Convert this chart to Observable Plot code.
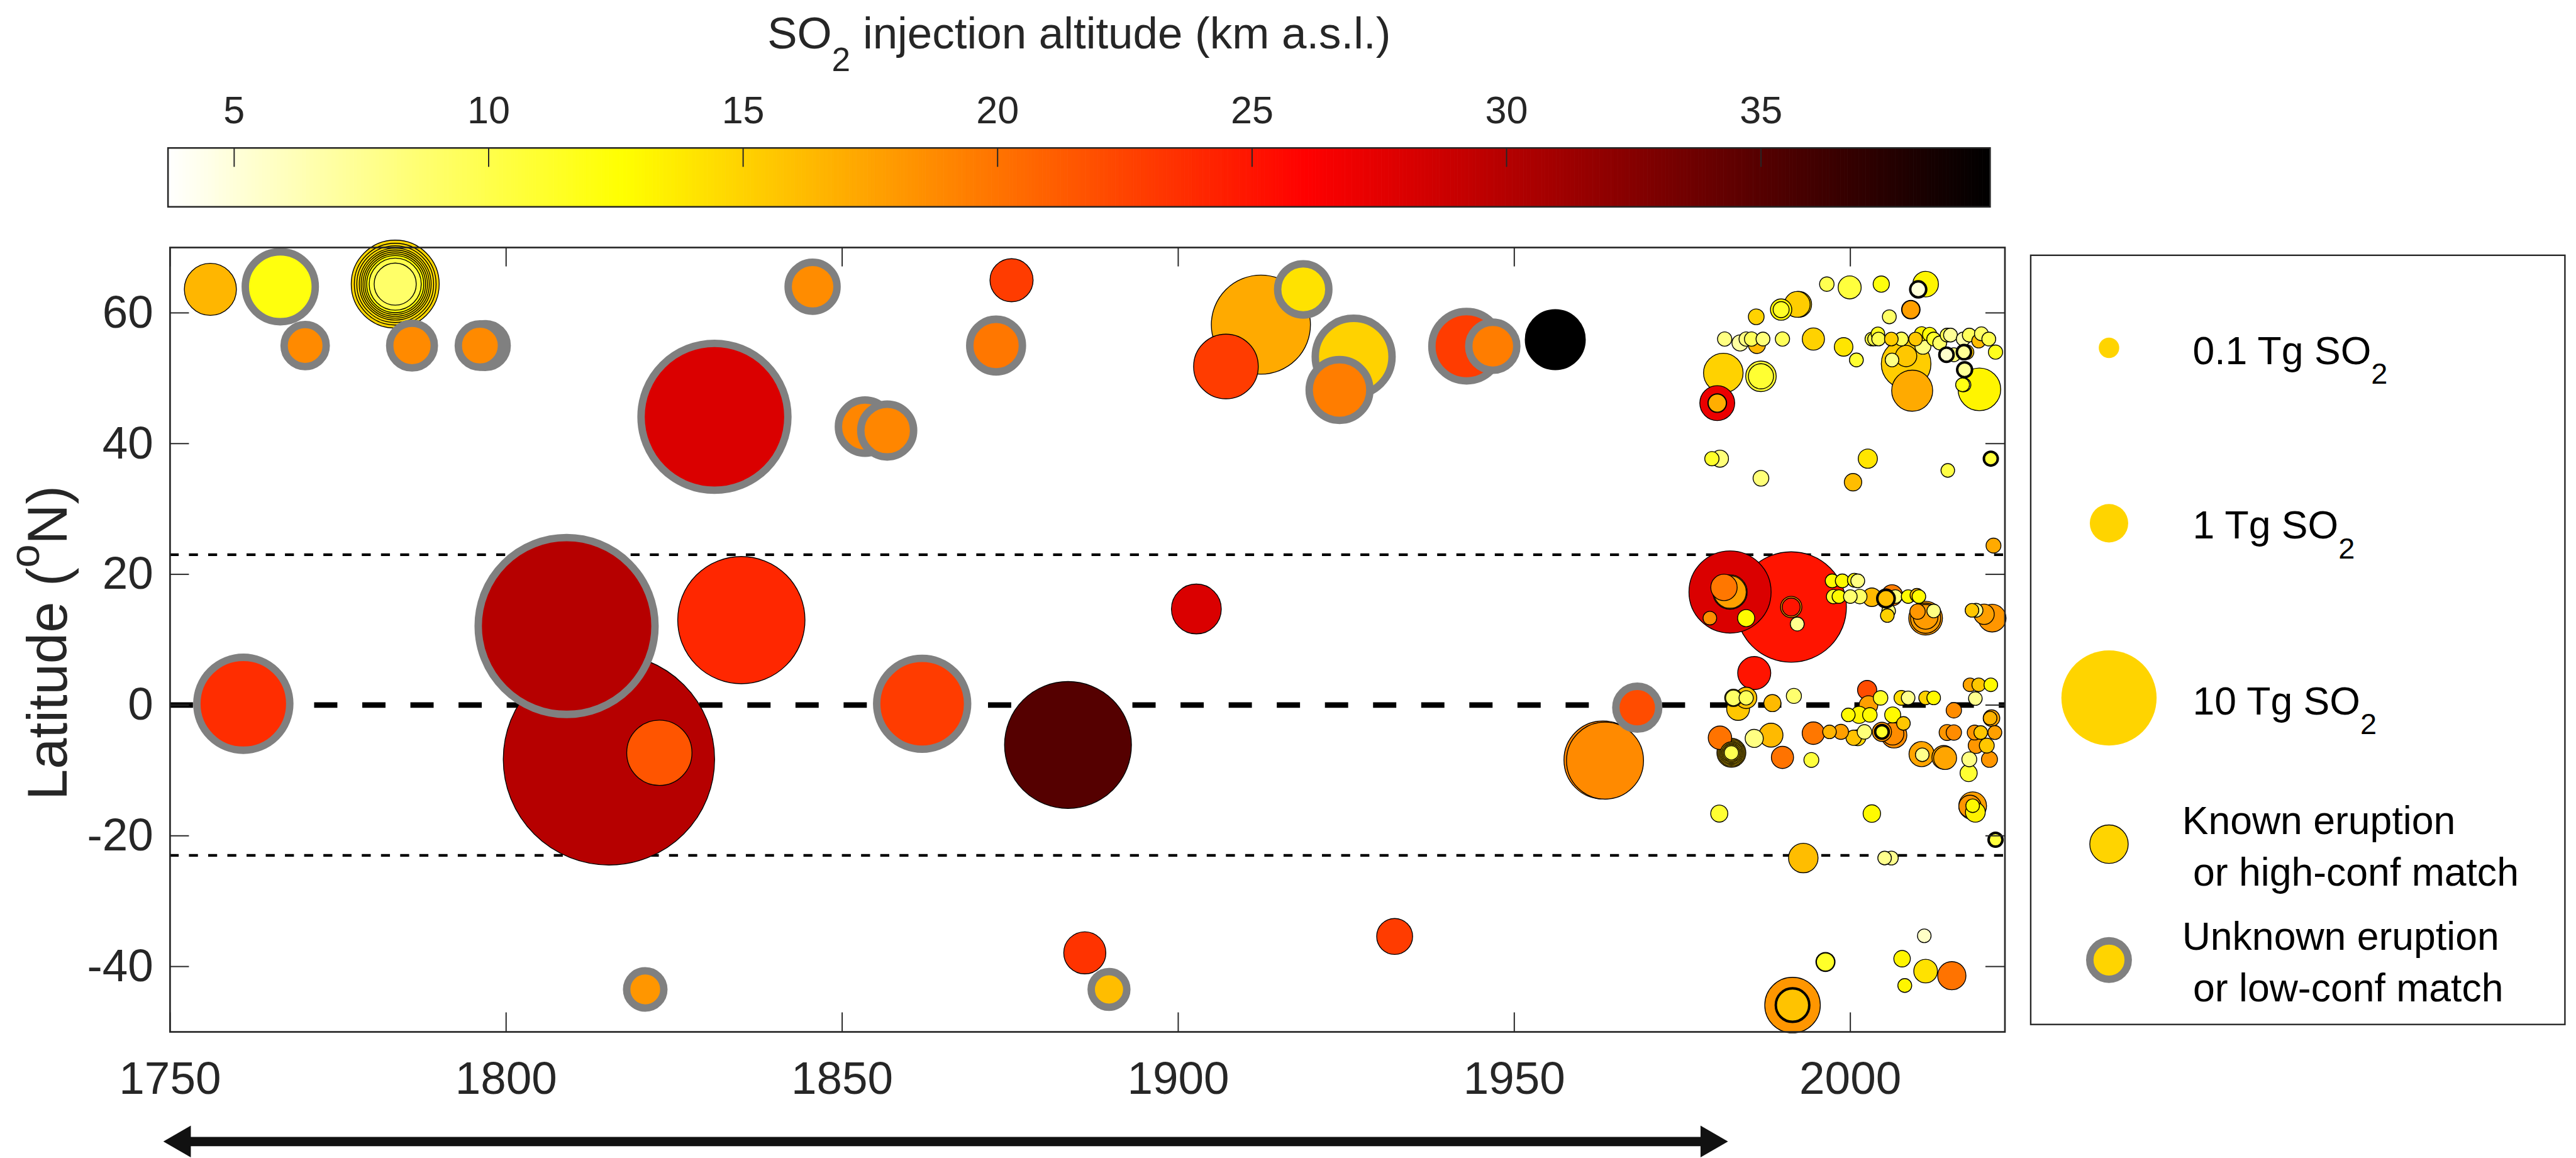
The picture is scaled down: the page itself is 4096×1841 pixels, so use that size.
<!DOCTYPE html>
<html><head><meta charset="utf-8">
<script src="https://cdn.jsdelivr.net/npm/d3@7"></script>
<script src="https://cdn.jsdelivr.net/npm/@observablehq/plot@0.6"></script>
<style>
html,body{margin:0;padding:0;background:#fff;}
#chart{position:relative;width:4096px;height:1841px;overflow:hidden;background:#fff;}
#chart svg{position:absolute;left:0;top:0;}
#chart text{white-space:pre;}
</style></head><body><div id="chart"></div>
<script>
// ---------------- DATA: [year, latitude (°N), SO2 mass (Tg), injection altitude (km)] ----------------
const knownPre = [
  [1756.0, 63.6, 2.31, 16.5],
  [1783.5, 64.4, 8.33, 14.8], [1783.5, 64.4, 7.03, 14.5], [1783.5, 64.4, 6.06, 14.5],
  [1783.5, 64.4, 5.17, 14.2], [1783.5, 64.4, 4.55, 14.2], [1783.5, 64.4, 3.96, 14.0],
  [1783.5, 64.4, 3.42, 13.6], [1783.5, 64.4, 2.92, 12.5], [1783.5, 64.4, 2.31, 10.0],
  [1783.5, 64.4, 1.30, 9.0],
  [1815.3, -8.3, 57.5, 29.9],
  [1835.0, 13.0, 19.2, 24.0],
  [1822.8, -7.3, 4.09, 21.6],
  [1875.2, 65.0, 1.39, 22.9],
  [1912.3, 58.2, 10.96, 17.1],
  [1907.1, 51.8, 4.0, 22.9],
  [1956.1, 55.9, 3.33, 39.5],
  [1902.7, 14.7, 2.06, 28.0],
  [1883.6, -6.1, 19.08, 35.0],
  [1963.2, -8.4, 6.3, 19.0], [1963.5, -8.5, 6.1, 18.8],
  [1886.1, -37.9, 1.30, 23.4],
  [1932.2, -35.4, 0.82, 22.9]
];
const unknownPre = [
  [1766.4, 64.0, 4.85, 12.2],
  [1770.1, 55.0, 1.30, 18.8],
  [1786.0, 55.0, 1.53, 18.8],
  [1796.9, 55.0, 1.45, 18.8], [1796.1, 55.0, 1.40, 18.8],
  [1845.6, 64.0, 1.96, 18.7],
  [1831.0, 44.1, 26.3, 28.0],
  [1853.4, 42.6, 2.45, 19.0], [1856.7, 42.0, 2.40, 19.0],
  [1809.0, 12.1, 39.3, 29.9],
  [1760.9, 0.2, 9.46, 23.7],
  [1861.9, 0.2, 9.0, 22.9],
  [1872.9, 55.0, 2.38, 19.8],
  [1918.6, 63.6, 2.21, 14.2],
  [1926.1, 53.3, 6.06, 15.0],
  [1924.0, 48.2, 3.42, 19.5],
  [1942.9, 54.9, 4.75, 22.9],
  [1946.8, 54.9, 1.87, 19.5],
  [1968.3, -0.4, 1.37, 22.1],
  [1820.7, -43.5, 0.91, 18.2],
  [1889.7, -43.5, 0.80, 16.1]
];
const knownSatNorth = [
  [1980.2, 46.2, 0.75, 27.1], [1980.2, 46.2, 0.065, 16.9], [1980.2, 46.2, 0.05, 16.9],
  [1981.1, 50.8, 1.09, 15.0],
  [1986.7, 50.3, 0.49, 10.9], [1986.7, 50.3, 0.245, 10.9],
  [1979.4, 37.7, 0.0064, 11.2], [1980.6, 37.7, 0.0356, 8.4],
  [1986.7, 34.7, 0.0187, 8.4], [2002.6, 37.7, 0.072, 14.0], [2000.4, 34.1, 0.0411, 16.1],
  [2014.5, 35.9, 0.0032, 10.2], [2021.3, 24.4, 0.0108, 17.1],
  [1996.5, 64.4, 0.008, 9.8], [1999.9, 63.9, 0.172, 10.5], [2004.6, 64.4, 0.0242, 12.2],
  [2011.2, 64.4, 0.264, 13.2],
  [1992.1, 61.3, 0.27, 15.3], [1992.3, 61.3, 0.279, 15.0],
  [1989.7, 60.5, 0.122, 12.9], [1989.7, 60.5, 0.0214, 11.2],
  [1986.0, 59.4, 0.0187, 15.0], [2005.8, 59.4, 0.0044, 9.1],
  [2009.0, 60.5, 0.060, 17.7], [2009.0, 60.5, 0.045, 17.7],
  [1981.3, 56.0, 0.0064, 8.1], [1983.6, 55.4, 0.0242, 7.0], [1984.5, 56.0, 0.0064, 8.1],
  [1986.1, 55.1, 0.0356, 16.3], [1985.3, 56.0, 0.0064, 9.5], [1987.0, 56.0, 0.0044, 8.4],
  [1989.9, 56.0, 0.0064, 9.5], [1994.5, 56.0, 0.146, 15.0], [1999.0, 54.8, 0.060, 14.0],
  [2000.9, 52.8, 0.0044, 10.9], [2003.2, 56.0, 0.0032, 10.5], [2003.6, 56.0, 0.0032, 10.0],
  [2004.1, 56.8, 0.0032, 11.5], [2004.2, 56.0, 0.0032, 9.8], [2006.1, 56.0, 0.0032, 15.3],
  [2007.6, 56.0, 0.0044, 9.5],
  [2008.3, 52.2, 2.04, 15.3], [2008.3, 53.4, 0.122, 15.6], [2006.2, 52.8, 0.0032, 8.1],
  [2009.2, 48.1, 1.21, 17.1],
  [2010.6, 56.8, 0.0064, 13.4], [2009.7, 56.0, 0.0032, 15.6], [2010.8, 54.9, 0.0214, 8.1],
  [2011.8, 56.7, 0.0064, 12.5], [2012.4, 56.0, 0.0044, 11.2], [2013.3, 55.4, 0.0044, 9.1],
  [2014.4, 56.6, 0.0044, 9.8], [2014.9, 56.6, 0.0044, 7.4], [2015.4, 53.6, 0.0044, 8.4],
  [2016.8, 56.0, 0.0044, 6.7], [2017.7, 56.6, 0.0044, 9.5], [2019.1, 55.7, 0.0044, 16.1],
  [2019.5, 56.8, 0.0044, 9.1], [2020.6, 56.0, 0.0044, 9.8], [2021.6, 54.0, 0.0064, 11.6],
  [2017.3, 54.0, 0.008, 15.6], [2016.9, 49.0, 0.0044, 6.7], [2016.7, 49.0, 0.0044, 12.0],
  [2019.2, 48.3, 1.35, 13.2]
];
const knownSatTropics = [
  [1982.1, 17.3, 7.10, 28.0], [1982.1, 17.3, 0.713, 17.7], [1982.1, 17.3, 0.60, 17.7],
  [1981.2, 18.0, 0.294, 19.8], [1979.1, 13.3, 0.0032, 18.7], [1984.5, 13.3, 0.0356, 12.9],
  [1991.2, 15.0, 14.0, 25.0], [1991.2, 15.0, 0.122, 18.7], [1991.2, 15.0, 0.05, 25.0],
  [1992.1, 12.4, 0.0044, 7.7],
  [1985.7, 4.9, 0.635, 25.0],
  [1997.3, 19.0, 0.0044, 12.9], [1998.8, 19.0, 0.0044, 12.9], [2000.6, 19.1, 0.0044, 12.5],
  [2001.1, 19.0, 0.0044, 8.1], [1997.5, 16.6, 0.0064, 11.2], [1998.3, 16.6, 0.0032, 12.9],
  [2000.0, 16.6, 0.0032, 8.8], [2001.4, 16.6, 0.008, 9.1], [2003.2, 16.5, 0.060, 16.3],
  [2005.3, 16.3, 0.072, 17.4], [2006.2, 16.8, 0.115, 19.5], [2006.7, 16.6, 0.0032, 8.4],
  [2008.6, 16.6, 0.0032, 12.9], [2009.9, 16.8, 0.0032, 16.1], [2010.2, 16.6, 0.0032, 12.9],
  [2005.7, 14.4, 0.0032, 8.4], [2005.5, 13.7, 0.0032, 15.0],
  [2011.2, 13.3, 0.674, 17.9], [2011.2, 13.3, 0.47, 17.9], [2011.2, 13.5, 0.23, 17.9],
  [2010.0, 14.3, 0.015, 18.2], [2012.4, 14.4, 0.0032, 8.1], [2018.1, 14.5, 0.0032, 15.6],
  [2018.7, 14.5, 0.0044, 7.7], [2019.9, 13.9, 0.097, 17.7], [2021.1, 13.3, 0.353, 18.2],
  [1982.6, 1.1, 0.0392, 15.3], [1982.6, 1.1, 0.0174, 9.1], [1984.5, 1.1, 0.122, 15.8],
  [1984.5, 1.1, 0.0064, 9.5], [1983.3, -0.6, 0.165, 15.6], [1988.4, 0.3, 0.0356, 16.3],
  [1991.6, 1.4, 0.0128, 8.8], [2002.5, 2.3, 0.072, 22.1], [2002.7, 0.0, 0.060, 17.7],
  [2004.5, 1.1, 0.008, 11.2], [2007.6, 1.1, 0.0098, 14.5], [2008.6, 1.1, 0.0032, 7.7],
  [2011.2, 1.1, 0.0032, 15.0], [2012.4, 1.1, 0.0032, 12.9], [2015.4, -0.8, 0.015, 18.7],
  [2017.8, 3.1, 0.0032, 17.4], [2019.1, 3.1, 0.0032, 15.6], [2020.9, 3.1, 0.0032, 12.9],
  [2018.6, 1.0, 0.0032, 7.7], [2021.0, -2.0, 0.0288, 17.4], [2020.8, -2.0, 0.0032, 16.6]
];
const knownSatSouth = [
  [1999.7, -1.5, 0.0032, 12.9], [2001.3, -1.5, 0.0356, 13.2], [2002.9, -1.5, 0.008, 12.9],
  [2006.3, -1.5, 0.0214, 12.9], [2007.9, -2.8, 0.0032, 15.6],
  [1980.6, -5.0, 0.184, 20.0],
  [1982.3, -7.3, 0.41, 15.6], [1982.3, -7.3, 0.305, 15.3], [1982.3, -7.3, 0.209, 15.6],
  [1982.3, -7.3, 0.132, 15.0], [1982.3, -7.3, 0.072, 15.6], [1982.3, -7.3, 0.030, 15.0],
  [1982.3, -7.3, 0.0064, 9.8],
  [1985.7, -5.1, 0.0513, 8.1], [1988.2, -4.6, 0.20, 16.3], [1989.9, -8.0, 0.146, 20.0],
  [1994.2, -8.4, 0.0108, 10.5], [1994.5, -4.3, 0.153, 19.8], [1996.9, -4.1, 0.0032, 16.6],
  [1998.6, -4.1, 0.0128, 17.7], [2000.5, -5.0, 0.015, 15.8], [2001.1, -5.0, 0.0214, 14.8],
  [2002.1, -4.1, 0.008, 8.4], [2004.7, -4.1, 0.072, 18.2],
  [2006.5, -4.6, 0.264, 18.7], [2006.3, -4.4, 0.15, 18.7],
  [2010.6, -7.5, 0.245, 17.4], [2010.7, -7.6, 0.0032, 7.7],
  [2013.9, -8.0, 0.192, 17.4], [2014.1, -8.1, 0.17, 17.4],
  [2014.4, -4.2, 0.0214, 18.2], [2015.4, -4.2, 0.015, 18.7], [2018.5, -4.2, 0.0108, 18.2],
  [2019.4, -4.2, 0.0032, 15.6], [2021.5, -4.2, 0.0044, 17.7], [2018.7, -6.2, 0.0174, 18.2],
  [2020.3, -6.2, 0.0108, 15.6], [2017.7, -8.3, 0.0108, 8.1], [2020.7, -8.3, 0.0214, 18.2],
  [2017.6, -10.4, 0.0356, 10.9],
  [2018.2, -15.4, 0.353, 17.7], [2017.8, -15.5, 0.15, 18.2], [2018.6, -16.4, 0.0855, 13.4],
  [2018.2, -15.4, 0.0032, 12.9],
  [1980.5, -16.6, 0.0356, 10.9], [2003.2, -16.6, 0.0411, 12.9],
  [1993.0, -23.4, 0.436, 16.1], [2005.1, -23.4, 0.0032, 7.7], [2006.1, -23.4, 0.0044, 7.7],
  [2011.0, -35.3, 0.0032, 5.7], [2007.7, -38.8, 0.0273, 13.2], [2011.2, -40.7, 0.192, 14.2],
  [2008.1, -42.9, 0.0044, 13.2], [2015.1, -41.4, 0.376, 20.0],
  [1996.3, -39.3, 0.072, 11.2], [1996.3, -39.3, 0.05, 11.2],
  [1991.4, -45.9, 2.73, 18.2]
];
// small eruptions drawn with a heavy black edge in the original
const boldEdge = [
  [2010.1, 63.6, 0.0214, 5.0], [2020.9, 37.7, 0.0044, 10.5], [2014.3, 53.6, 0.0064, 5.5],
  [2016.9, 54.0, 0.0064, 7.4], [2017.0, 51.3, 0.0108, 7.4], [2004.7, -4.1, 0.0032, 11.2],
  [2005.3, 16.3, 0.04, 16.0], [2021.6, -20.6, 0.0044, 10.5], [1991.4, -45.9, 0.66, 15.8]
];

const xTicks = [1750, 1800, 1850, 1900, 1950, 2000];
const yTicks = [-40, -20, 0, 20, 40, 60];
const colorTicks = [5, 10, 15, 20, 25, 30, 35];
const tropics = [-23, 23];
const equator = [0];
const arrowSpan = [1749, 1981.8];
const legendMasses = [0.1, 1, 10];
const legendMassLabels = ["0.1 Tg SO2", "1 Tg SO2", "10 Tg SO2"];
const legendTypeLabels = ["Known eruption", " or high-conf match", "Unknown eruption", " or low-conf match"];
const colorTitle = "SO2 injection altitude (km a.s.l.)";
const yTitle = "Latitude (oN)";

// ---------------- LAYOUT ----------------
const S = 0.985, W = 4096, H = 1841;
const FONT = "'Liberation Sans', Arial, Helvetica, sans-serif";
const INK = "#262626";
const GOLD = "#FFD400";
const toRows = (arr, type) => arr.map(([year, lat, mass, alt]) => ({year, lat, mass, alt, type}));
const byMass = (a, b) => b.mass - a.mass;
const known = [...toRows(knownPre), ...toRows(knownSatNorth), ...toRows(knownSatTropics), ...toRows(knownSatSouth)].sort(byMass);
const unknown = toRows(unknownPre).sort(byMass);
const bold = toRows(boldEdge).sort(byMass);

const altMin = 3.7, altMax = 39.5, span = altMax - altMin;
const colorOpts = {type: "linear", domain: [altMin, altMin + 0.25 * span, altMin + 0.625 * span, altMax],
  range: ["#ffffff", "#ffff00", "#ff0000", "#000000"], interpolate: "rgb"};
const rOpts = {type: "pow", exponent: 0.5, domain: [0, 1], range: [9.8 * S, 31 * S]};

const fL = 274 * S, fR = 3236 * S, fT = 399 * S, fB = 1665 * S;
const fW = fR - fL, fH = fB - fT, tickLen = 31 * S;

function richify(svg, label, parts, fs) {
  d3.select(svg).selectAll("text").filter(function () { return this.textContent === label; }).each(function () {
    const el = d3.select(this); el.text(null);
    let cur = 0;
    for (const [str, mode] of parts) {
      const target = mode === 1 ? 0.5 * fs : mode === -1 ? -0.5 * fs : 0;
      const ts = el.append("tspan").text(str).attr("dy", target - cur);
      if (mode) ts.attr("font-size", 0.75 * fs);
      cur = target;
    }
  });
}

const chart = document.getElementById("chart");
const headW = 14.8 * S, headR = headW / 0.7776;

const main = Plot.plot({
  width: W, height: H,
  marginLeft: fL, marginRight: W - fR, marginTop: fT, marginBottom: H - fB,
  x: {domain: [1750, 2023], axis: null},
  y: {domain: [-50, 70], axis: null},
  color: colorOpts, r: rOpts,
  style: {background: "transparent", fontFamily: FONT, overflow: "visible"},
  marks: [
    Plot.ruleY(tropics, {stroke: "black", strokeWidth: 4.4 * S, strokeDasharray: `${14.5 * S},${16.5 * S}`}),
    Plot.ruleY(equator, {stroke: "black", strokeWidth: 9 * S, strokeDasharray: `${37.5 * S},${40.2 * S}`}),
    Plot.dot(known, {x: "year", y: "lat", r: "mass", fill: "alt", stroke: "black", strokeWidth: 1.4 * S, sort: null}),
    Plot.dot(unknown, {x: "year", y: "lat", r: "mass", fill: "alt", stroke: "#808080", strokeWidth: 12 * S, sort: null}),
    Plot.dot(bold, {x: "year", y: "lat", r: "mass", fill: "alt", stroke: "black", strokeWidth: 4 * S, sort: null}),
    Plot.ruleX(xTicks, {insetTop: fH - tickLen, stroke: INK, strokeWidth: 2 * S}),
    Plot.ruleX(xTicks, {insetBottom: fH - tickLen, stroke: INK, strokeWidth: 2 * S}),
    Plot.ruleY(yTicks, {insetRight: fW - tickLen, stroke: INK, strokeWidth: 2 * S}),
    Plot.ruleY(yTicks, {insetLeft: fW - tickLen, stroke: INK, strokeWidth: 2 * S}),
    Plot.frame({stroke: INK, strokeWidth: 2.7 * S}),
    Plot.text(xTicks, {x: d => d, text: d => String(d), frameAnchor: "bottom", dy: (1765 - 1665) * S,
      lineAnchor: "bottom", fontSize: 74 * S, fill: INK}),
    Plot.text(yTicks, {y: d => d, text: d => String(d), frameAnchor: "left", dx: (247 - 274) * S,
      textAnchor: "end", lineAnchor: "middle", fontSize: 74 * S, fill: INK}),
    Plot.text([yTitle], {text: d => d, frameAnchor: "left", dx: (107 - 274) * S, dy: 5 * S, rotate: -90,
      lineAnchor: "bottom", textAnchor: "middle", fontSize: 90 * S, fill: INK}),
    Plot.ruleY([-50], {x1: arrowSpan[0], x2: arrowSpan[1], dy: (1842 - 1665) * S, stroke: "#111",
      strokeWidth: 15 * S, insetLeft: 2.5 * headW, insetRight: 2.5 * headW}),
    Plot.dot([arrowSpan[1]], {x: d => d, y: -50, dy: (1842 - 1665) * S, dx: -2 * headW, symbol: "triangle",
      rotate: 90, r: headR, fill: "#111", stroke: "none"}),
    Plot.dot([arrowSpan[0]], {x: d => d, y: -50, dy: (1842 - 1665) * S, dx: 2 * headW, symbol: "triangle",
      rotate: -90, r: headR, fill: "#111", stroke: "none"})
  ]
});
chart.appendChild(main);
richify(main, yTitle, [["Latitude (", 0], ["o", -1], ["N)", 0]], 90 * S);

// ---------------- COLORBAR ----------------
const cbL = 270.7 * S, cbR = 3212 * S, cbT = 238.3 * S, cbB = 333.3 * S, cbSvgH = 345;
const rampN = 500;
const ramp = d3.range(rampN).map(i => {
  const a = altMin + span * i / rampN, b = altMin + span * (i + 1) / rampN;
  return {a, b, v: (a + b) / 2};
});
const cbar = Plot.plot({
  width: W, height: cbSvgH,
  marginLeft: cbL, marginRight: W - cbR, marginTop: cbT, marginBottom: cbSvgH - cbB,
  x: {domain: [altMin, altMax], axis: null},
  y: {domain: [0, 1], axis: null},
  color: colorOpts,
  style: {background: "transparent", fontFamily: FONT, overflow: "visible"},
  marks: [
    Plot.rect(ramp, {x1: "a", x2: "b", y1: 0, y2: 1, fill: "v", stroke: "v", strokeWidth: 0.8}),
    Plot.ruleX(colorTicks, {insetBottom: (cbB - cbT) - 31 * S, stroke: INK, strokeWidth: 2 * S}),
    Plot.frame({stroke: INK, strokeWidth: 2.6 * S}),
    Plot.text(colorTicks, {x: d => d, text: d => String(d), frameAnchor: "top", dy: -(238.3 - 198) * S,
      lineAnchor: "bottom", fontSize: 62 * S, fill: INK}),
    Plot.text([colorTitle], {text: d => d, frameAnchor: "top", dy: -(238.3 - 78) * S,
      lineAnchor: "bottom", fontSize: 72 * S, fill: INK})
  ]
});
chart.appendChild(cbar);
richify(cbar, colorTitle, [["SO", 0], ["2", 1], [" injection altitude (km a.s.l.)", 0]], 72 * S);

// ---------------- LEGEND ----------------
const lgL = 3277.6 * S, lgR = 4140 * S, lgT = 411.5 * S, lgB = 1653 * S;
const lgFont = 63.5 * S;
const lgDotX = 3404 * S;
const lgMassRowY = [561, 844, 1126].map(v => v * S);
const lgMassTextY = [587.3, 869, 1152.8].map(v => v * S);
const lgTypeRowY = [1362, 1549].map(v => v * S);
const lgTypeTextY = [1346, 1429, 1532.6, 1615.5].map(v => v * S);
const lgMassTextX = 3539 * S, lgTypeTextX = 3522 * S;
const legend = Plot.plot({
  width: W, height: H,
  marginLeft: lgL, marginRight: W - lgR, marginTop: lgT, marginBottom: H - lgB,
  x: {type: "identity", axis: null},
  y: {type: "identity", axis: null},
  r: rOpts,
  style: {background: "transparent", fontFamily: FONT, overflow: "visible"},
  marks: [
    Plot.frame({stroke: INK, strokeWidth: 2.4 * S}),
    Plot.dot(legendMasses, {x: lgDotX, y: (d, i) => lgMassRowY[i], r: d => d, fill: GOLD, stroke: "none", sort: null}),
    Plot.dot([1], {x: lgDotX, y: lgTypeRowY[0], r: d => d, fill: GOLD, stroke: "black", strokeWidth: 1.4 * S}),
    Plot.dot([1], {x: lgDotX, y: lgTypeRowY[1], r: d => d, fill: GOLD, stroke: "#808080", strokeWidth: 12 * S}),
    Plot.text(legendMassLabels, {x: lgMassTextX, y: (d, i) => lgMassTextY[i], text: d => d,
      textAnchor: "start", lineAnchor: "bottom", fontSize: lgFont, fill: "black"}),
    Plot.text(legendTypeLabels, {x: lgTypeTextX, y: (d, i) => lgTypeTextY[i], text: d => d,
      textAnchor: "start", lineAnchor: "bottom", fontSize: lgFont, fill: "black"})
  ]
});
chart.appendChild(legend);
for (const lab of legendMassLabels) {
  richify(legend, lab, [[lab.slice(0, -1), 0], ["2", 1]], lgFont);
}
</script></body></html>
